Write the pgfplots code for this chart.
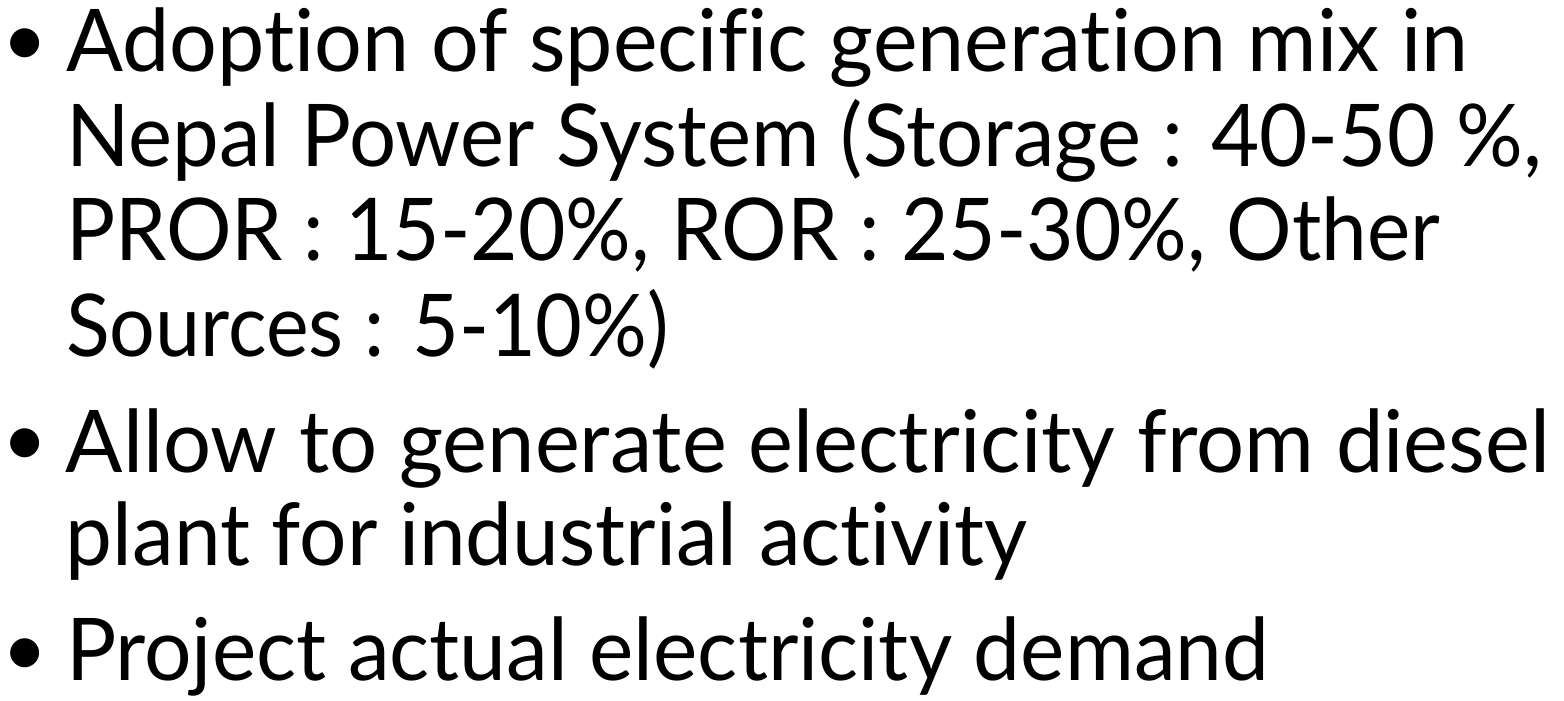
\documentclass[border=0pt]{standalone}
\usepackage{fontspec}
\setmainfont{Lato}[Ligatures={NoCommon,NoRare}]
\usepackage{graphicx}
\usepackage{pgfplots}
\pgfplotsset{compat=1.18}
\newsavebox\linebox
\newcommand\fitline[2]{\sbox\linebox{#2}\pgfmathsetmacro\fitratio{#1*0.5/\wd\linebox}\scalebox{\fitratio}[1]{\usebox\linebox}}
\begin{document}
\begin{tikzpicture}
\begin{axis}[name=ax, scale only axis, width=782pt, height=350.5pt,
  xmin=0, xmax=1564, ymin=0, ymax=701, y dir=reverse, hide axis, clip=false]
\addplot[draw=none] coordinates {(0,0) (1564,701)};
\begin{scope}[every node/.style={inner sep=0pt, outer sep=0pt, font=\fontsize{43.3pt}{50pt}\selectfont}]
\node[anchor=north, font=\fontsize{39pt}{44pt}\selectfont] at (axis cs:25,29) {•};
\node[anchor=north, font=\fontsize{39pt}{44pt}\selectfont] at (axis cs:25,429) {•};
\node[anchor=north, font=\fontsize{39pt}{44pt}\selectfont] at (axis cs:25,639) {•};
\node[anchor=base west] at (axis cs:66,72) {\fitline{1402}{Adoption of specific generation mix in}};
\node[anchor=base west] at (axis cs:66,167) {\fitline{1476}{Nepal Power System (Storage : 40-50 \%,}};
\node[anchor=base west] at (axis cs:66,260) {\fitline{1374}{PROR : 15-20\%, ROR : 25-30\%, Other}};
\node[anchor=base west] at (axis cs:66,356) {\fitline{603}{Sources : 5-10\%)}};
\node[anchor=base west] at (axis cs:66,472) {\fitline{1484}{Allow to generate electricity from diesel}};
\node[anchor=base west] at (axis cs:66,565) {\fitline{961}{plant for industrial activity}};
\node[anchor=base west] at (axis cs:66,680) {\fitline{1203}{Project actual electricity demand}};
\end{scope}
\end{axis}
\pgfresetboundingbox
\path (ax.south west) rectangle (ax.north east);
\end{tikzpicture}
\end{document}
